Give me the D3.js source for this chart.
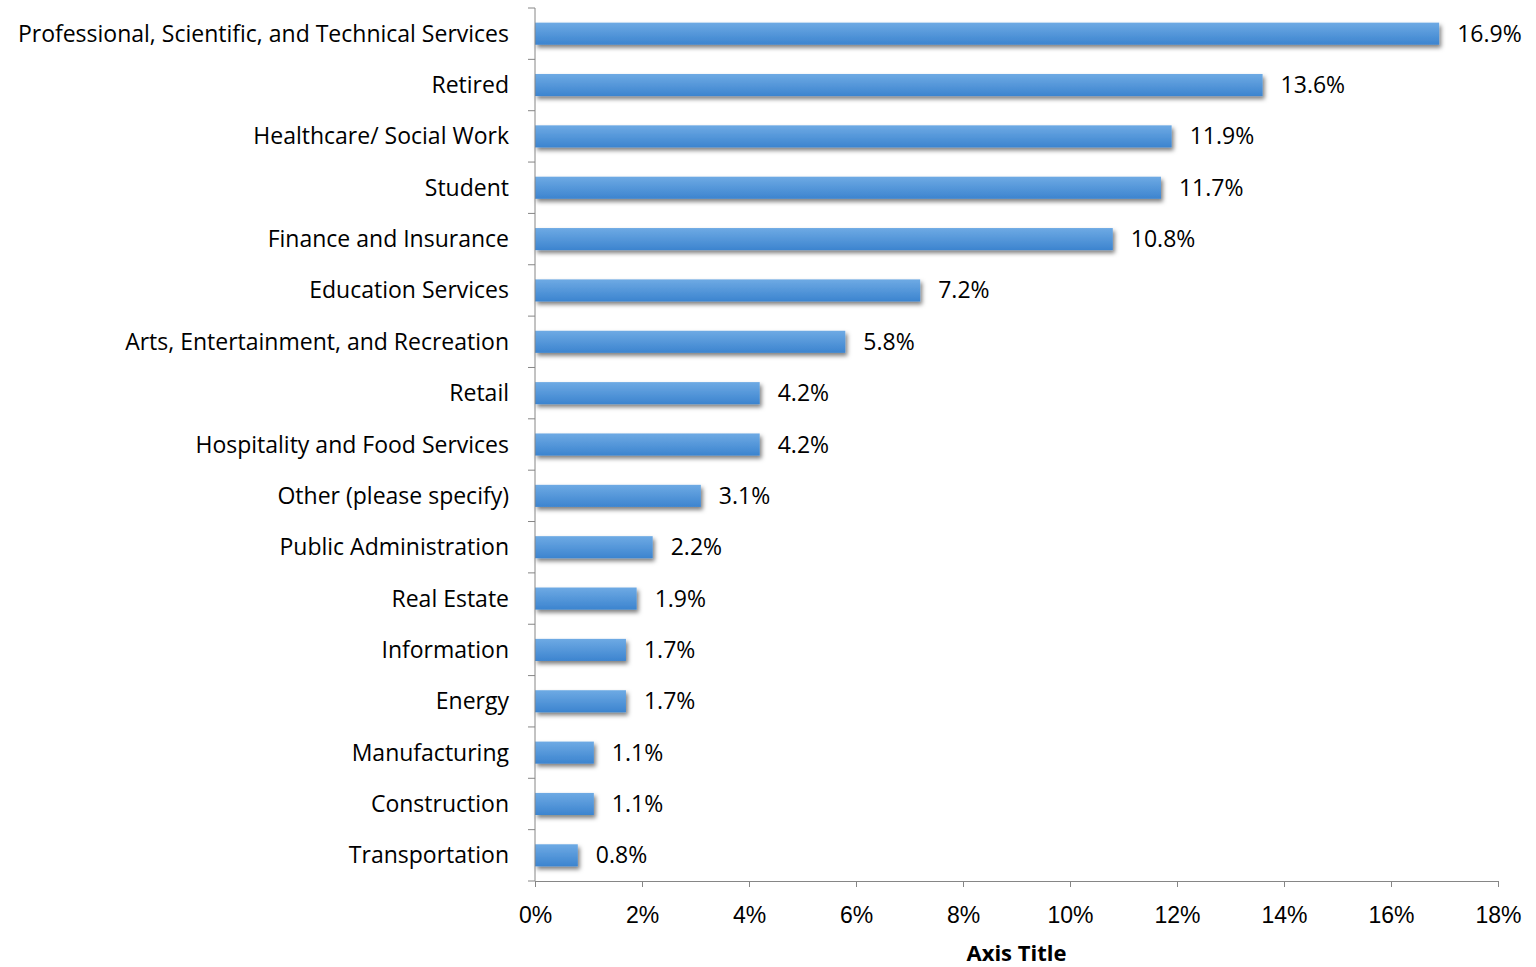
<!DOCTYPE html>
<html>
<head>
<meta charset="utf-8">
<script src="https://cdn.jsdelivr.net/npm/d3@7"></script>
<style>
  body { margin: 0; background: #fff; }
  svg { display: block; font-family: 'Open Sans', sans-serif; }
  .axis path, .axis line { stroke: #868686; }
  .axis text { fill: #000; font-size: 23px; }
  .bar-label { font-size: 23px; fill: #000; }
  .axis-title { font-size: 22px; font-weight: bold; }
</style>
</head>
<body>
<div id="chart"></div>
<script>
// categories top to bottom and their shares (%)
const categories = [
  'Professional, Scientific, and Technical Services',
  'Retired',
  'Healthcare/ Social Work',
  'Student',
  'Finance and Insurance',
  'Education Services',
  'Arts, Entertainment, and Recreation',
  'Retail',
  'Hospitality and Food Services',
  'Other (please specify)',
  'Public Administration',
  'Real Estate',
  'Information',
  'Energy',
  'Manufacturing',
  'Construction',
  'Transportation'
];
const shares = [16.9, 13.6, 11.9, 11.7, 10.8, 7.2, 5.8, 4.2, 4.2, 3.1, 2.2, 1.9, 1.7, 1.7, 1.1, 1.1, 0.8];
const xTicks = [0, 2, 4, 6, 8, 10, 12, 14, 16, 18];
const xTitle = 'Axis Title';

const data = categories.map((c, i) => ({name: c, value: shares[i]}));

const width = 1536, height = 967;
const margin = {top: 8, right: 38, bottom: 86, left: 535};
const innerW = width - margin.left - margin.right;
const innerH = height - margin.top - margin.bottom;

const svg = d3.select('#chart').append('svg')
    .attr('width', width)
    .attr('height', height);

const defs = svg.append('defs');
const grad = defs.append('linearGradient')
    .attr('id', 'barFill')
    .attr('x1', 0).attr('y1', 0).attr('x2', 0).attr('y2', 1);
grad.append('stop').attr('offset', '0%').attr('stop-color', '#6eaae4');
grad.append('stop').attr('offset', '100%').attr('stop-color', '#3c84cf');

const shadow = defs.append('filter')
    .attr('id', 'shadow')
    .attr('x', '-5%').attr('y', '-30%')
    .attr('width', '120%').attr('height', '190%');
shadow.append('feDropShadow')
    .attr('dx', 2).attr('dy', 3)
    .attr('stdDeviation', 2)
    .attr('flood-color', '#000')
    .attr('flood-opacity', 0.5);

const chart = svg.append('g')
    .attr('transform', `translate(${margin.left},${margin.top})`);

const xScale = d3.scaleLinear()
    .domain([0, 18])
    .range([0, innerW]);

const yScale = d3.scaleBand()
    .domain(categories)
    .range([0, innerH])
    .paddingInner(0.57)
    .paddingOuter(0.285);

// bars
chart.selectAll('.bar')
    .data(data)
  .join('rect')
    .attr('class', 'bar')
    .attr('x', 0)
    .attr('y', d => yScale(d.name))
    .attr('width', d => xScale(d.value))
    .attr('height', yScale.bandwidth())
    .attr('fill', 'url(#barFill)')
    .attr('filter', 'url(#shadow)');

// value labels
chart.selectAll('.bar-label')
    .data(data)
  .join('text')
    .attr('class', 'bar-label')
    .attr('x', d => xScale(d.value) + 18)
    .attr('y', d => yScale(d.name) + yScale.bandwidth() / 2)
    .attr('dy', '0.35em')
    .text(d => d.value.toFixed(1) + '%');

// y axis: tick marks sit on band boundaries, labels at band centres
const yAxisG = chart.append('g').attr('class', 'axis y-axis');
yAxisG.append('line')
    .attr('x1', 0).attr('x2', 0)
    .attr('y1', 0).attr('y2', innerH);
const step = innerH / categories.length;
yAxisG.selectAll('.ytick')
    .data(d3.range(categories.length + 1))
  .join('line')
    .attr('class', 'ytick')
    .attr('x1', -7).attr('x2', 0)
    .attr('y1', i => i * step).attr('y2', i => i * step);
yAxisG.selectAll('.ylabel')
    .data(categories)
  .join('text')
    .attr('class', 'ylabel')
    .attr('x', -26)
    .attr('y', d => yScale(d) + yScale.bandwidth() / 2)
    .attr('dy', '0.35em')
    .attr('text-anchor', 'end')
    .text(d => d);

// x axis
const xAxis = d3.axisBottom(xScale)
    .tickValues(xTicks)
    .tickSize(6)
    .tickSizeOuter(0)
    .tickPadding(20)
    .tickFormat(d => d + '%');

chart.append('g')
    .attr('class', 'axis x-axis')
    .attr('transform', `translate(0,${innerH})`)
    .call(xAxis);

chart.append('text')
    .attr('class', 'axis-title')
    .attr('x', innerW / 2)
    .attr('y', innerH + 72)
    .attr('dy', '0.35em')
    .attr('text-anchor', 'middle')
    .text(xTitle);
</script>
</body>
</html>
